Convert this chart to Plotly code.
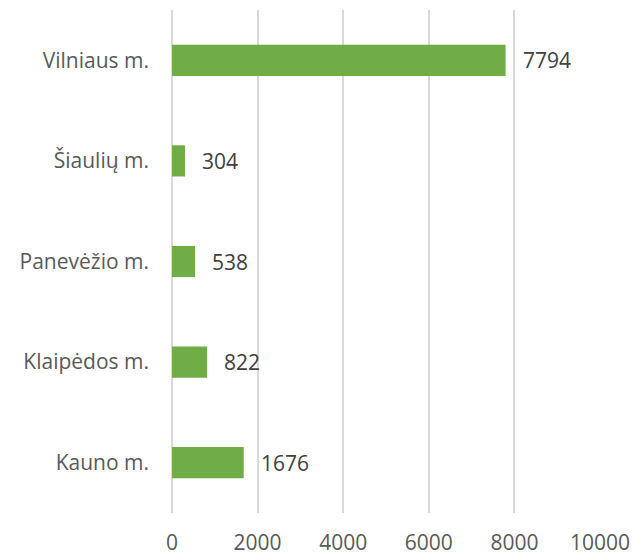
import plotly.graph_objects as go

# Municipalities listed bottom to top, with their counts
cities = ["Kauno m.", "Klaipėdos m.", "Panevėžio m.", "Šiaulių m.", "Vilniaus m."]
counts = [1676, 822, 538, 304, 7794]
x_ticks = [0, 2000, 4000, 6000, 8000, 10000]

bar_color = "#70AD47"
grid_color = "#D9D9D9"
font_family = "Open Sans, Noto Sans, sans-serif"

fig = go.Figure(
    go.Bar(
        x=counts,
        y=cities,
        orientation="h",
        marker=dict(color=bar_color, line=dict(width=0)),
        hoverinfo="x+y",
    )
)

# Value labels to the right of each bar
for c, v in zip(cities, counts):
    fig.add_annotation(
        x=v, y=c, text=str(v), showarrow=False,
        xanchor="left", yanchor="middle", xshift=15,
        font=dict(family=font_family, size=21, color="#404040"),
    )

fig.update_layout(
    width=633,
    height=556,
    margin=dict(l=172, r=33, t=10, b=43),
    paper_bgcolor="white",
    plot_bgcolor="white",
    bargap=0.69,
    showlegend=False,
    font=dict(family=font_family, size=21, color="#595959"),
)

fig.update_xaxes(
    range=[0, 10000],
    tickvals=x_ticks,
    ticktext=[str(t) for t in x_ticks],
    showgrid=True,
    gridcolor=grid_color,
    gridwidth=1.5,
    zeroline=True,
    zerolinecolor=grid_color,
    zerolinewidth=1.5,
    showline=False,
    ticks="",
    ticklabelstandoff=15,
    automargin=False,
    tickfont=dict(family=font_family, size=21, color="#595959"),
)

fig.update_yaxes(
    categoryorder="array",
    categoryarray=cities,
    showgrid=False,
    zeroline=False,
    showline=False,
    ticks="",
    ticklabelstandoff=22,
    automargin=False,
    tickfont=dict(family=font_family, size=21, color="#595959"),
)

fig.write_html("out.html")
